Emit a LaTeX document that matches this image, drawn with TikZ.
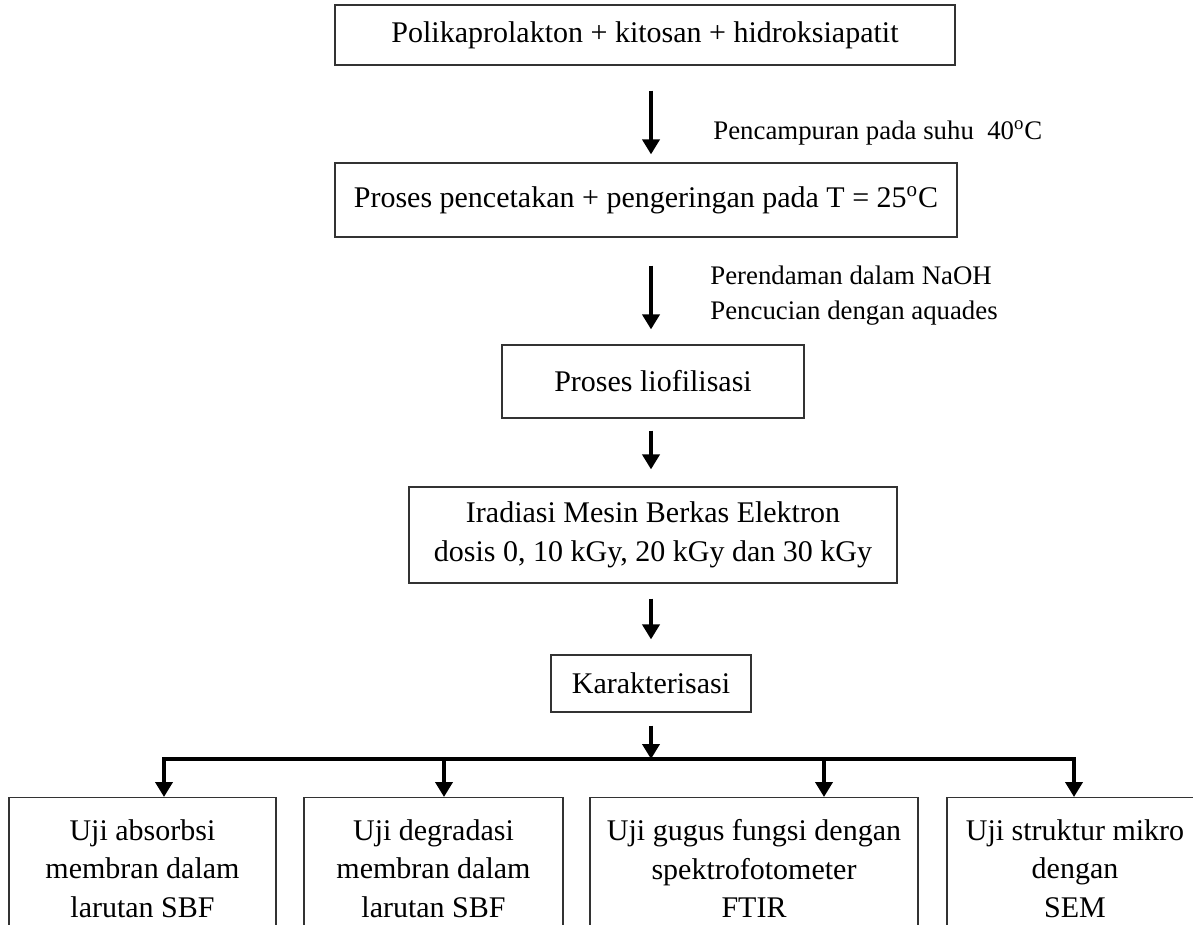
\documentclass[tikz,border=0pt]{standalone}
\usepackage{fontspec}
\setmainfont{Liberation Serif}
\usetikzlibrary{arrows.meta, positioning, calc}

\begin{document}
\begin{tikzpicture}[
  x=0.5pt, y=-0.5pt,
  every node/.style = {font=\fontsize{15}{19.25}\selectfont},
  box/.style = {draw=black!80, line width=0.6pt, inner sep=0pt, align=center},
  steplabel/.style = {anchor=west, align=left, inner sep=0pt, font=\fontsize{13.4}{17.5}\selectfont},
  arrow/.style = {line width=2.2pt, -{Triangle[width=8.5pt,length=7.5pt]}},
  branch/.style = {line width=2.2pt, line cap=rect}
]
  \useasboundingbox (0,0) rectangle (1193,925);

  % Process chain
  \node[box, minimum width=310pt, minimum height=30pt] (mix) at (645,35)
    {Polikaprolakton + kitosan + hidroksiapatit};
  \node[box, minimum width=311pt, minimum height=37pt] (cetak) at (646,200)
    {Proses pencetakan + pengeringan pada T = 25\textsuperscript{o}C};
  \node[box, minimum width=151pt, minimum height=36.5pt] (liof) at (653,381.5)
    {Proses liofilisasi};
  \node[box, minimum width=244pt, minimum height=48pt] (irad) at (653,535)
    {Iradiasi Mesin Berkas Elektron\\dosis 0, 10 kGy, 20 kGy dan 30 kGy};
  \node[box, minimum width=100pt, minimum height=28.5pt] (karak) at (651,683.5)
    {Karakterisasi};

  % step labels
  \node[steplabel] (campur) at (713,133) {Pencampuran pada suhu \ 40\textsuperscript{o}C};
  \node[steplabel] (rendam) at (710,296)
    {Perendaman dalam NaOH\\Pencucian dengan aquades};

  \draw[arrow, shorten <=12.5pt, shorten >=4pt] (mix.south -| karak) -- (cetak.north -| karak);
  \draw[arrow, shorten <=14pt, shorten >=7.5pt] (cetak.south -| karak) -- (liof.north -| karak);
  \draw[arrow, shorten <=6pt, shorten >=8.5pt] (liof.south -| karak) -- (irad.north -| karak);
  \draw[arrow, shorten <=7.5pt, shorten >=7.5pt] (irad.south -| karak) -- (karak);

  % Tests
  \node[box, anchor=north, minimum width=133.5pt, minimum height=71pt] (absorb) at (142.5,797)
    {Uji absorbsi\\membran dalam\\larutan SBF};
  \node[box, anchor=north, minimum width=129.5pt, minimum height=71pt] (degrad) at (433.5,797)
    {Uji degradasi\\membran dalam\\larutan SBF};
  \node[box, anchor=north, minimum width=164pt, minimum height=71pt] (ftir) at (754,797)
    {Uji gugus fungsi dengan\\spektrofotometer\\FTIR};
  \node[box, anchor=north, minimum width=128pt, minimum height=71pt] (sem) at (1075,797)
    {Uji struktur mikro\\dengan\\SEM};

  \coordinate (split) at (651,759);
  \coordinate (jA) at (164,759);
  \coordinate (jB) at (444,759);
  \coordinate (jC) at (824,759);
  \coordinate (jD) at (1074,759);

  \draw[arrow, shorten <=6.5pt] (karak) -- (split);
  \draw[branch] (jA) -- (jD);
  \draw[arrow] (jA) -- (jA |- absorb.north);
  \draw[arrow] (jB) -- (jB |- degrad.north);
  \draw[arrow] (jC) -- (jC |- ftir.north);
  \draw[arrow] (jD) -- (jD |- sem.north);

\end{tikzpicture}
\end{document}
